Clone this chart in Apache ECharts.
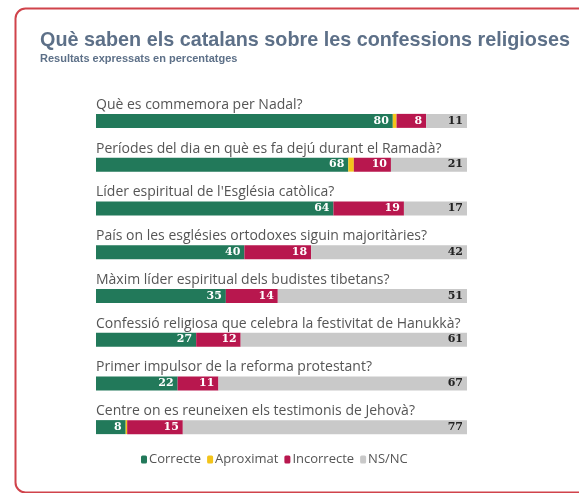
<!DOCTYPE html>
<html><head><meta charset="utf-8">
<script src="https://cdn.jsdelivr.net/npm/echarts@6/dist/echarts.min.js"></script>
<style>html,body{margin:0;padding:0;background:#fff}#c{width:579px;height:493px}</style>
</head><body><div id="c"></div>
<script>
const categories = [
  "Què es commemora per Nadal?",
  "Períodes del dia en què es fa dejú durant el Ramadà?",
  "Líder espiritual de l'Església catòlica?",
  "País on les esglésies ortodoxes siguin majoritàries?",
  "Màxim líder espiritual dels budistes tibetans?",
  "Confessió religiosa que celebra la festivitat de Hanukkà?",
  "Primer impulsor de la reforma protestant?",
  "Centre on es reuneixen els testimonis de Jehovà?"
];
const correcte   = [80, 68, 64, 40, 35, 27, 22, 8];
const aproximat  = [1, 1.5, 0, 0, 0, 0, 0, 0.4];
const incorrecte = [8, 10, 19, 18, 14, 12, 11, 15];
const nsnc       = [11, 21, 17, 42, 51, 61, 67, 77];
const seriesNames = ["Correcte", "Aproximat", "Incorrecte", "NS/NC"];

const chart = echarts.init(document.getElementById('c'), null, {renderer: 'canvas'});
const numFont = {fontFamily: 'DejaVu Serif', fontWeight: 'bold', fontSize: 11};
function mk(name, data, color, labelColor) {
  return {
    name, type: 'bar', stack: 'a', data, barWidth: 14,
    itemStyle: {color},
    label: labelColor ? Object.assign({show: true, position: 'insideRight', color: labelColor, distance: 4}, numFont) : {show: false},
    emphasis: {disabled: true}
  };
}
chart.setOption({
  animation: false,
  backgroundColor: '#fff',
  title: {
    text: 'Què saben els catalans sobre les confessions religioses',
    subtext: 'Resultats expressats en percentatges',
    left: 35, top: 26, itemGap: 2,
    textStyle: {fontFamily: 'Liberation Sans', fontWeight: 'bold', fontSize: 19.8, color: '#5d7088'},
    subtextStyle: {fontFamily: 'Liberation Sans', fontWeight: 'bold', fontSize: 11, color: '#5d7088'}
  },
  legend: {
    data: seriesNames, left: 136, top: 448,
    icon: 'roundRect', itemWidth: 6, itemHeight: 8, itemGap: 6,
    textStyle: {fontFamily: 'Open Sans', fontSize: 13, color: '#555', padding: [0,0,0,-3]}
  },
  grid: {left: 96, right: 112, top: 99, height: 350},
  xAxis: {type: 'value', min: 0, max: 100, show: false},
  yAxis: {
    type: 'category', data: categories, inverse: true,
    axisLine: {show: false}, axisTick: {show: false}, splitLine: {show: false},
    axisLabel: {inside: true, margin: 0, interval: 0, verticalAlign: 'bottom', padding: [0,0,9,0],
      fontFamily: 'Open Sans', fontSize: 14, color: '#555'}
  },
  series: [
    mk('Correcte', correcte, '#22795a', '#fff'),
    mk('Aproximat', aproximat, '#f3c41a', null),
    mk('Incorrecte', incorrecte, '#b8174e', '#fff'),
    mk('NS/NC', nsnc, '#c9c9c9', '#222')
  ],
  graphic: [{
    type: 'rect', left: 13, top: 6, silent: true,
    shape: {width: 620, height: 484, r: 10},
    style: {fill: 'none', stroke: '#d0434b', lineWidth: 2}
  }]
});
</script></body></html>
